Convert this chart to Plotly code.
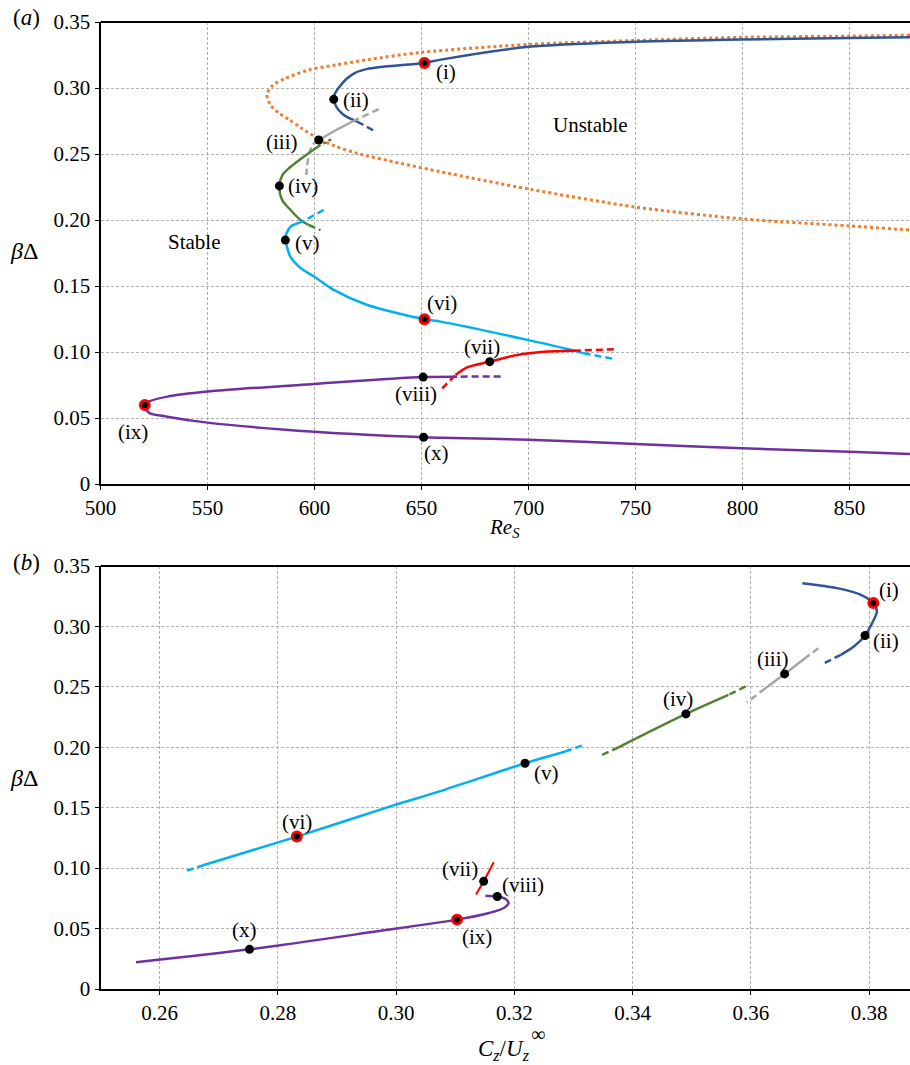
import plotly.graph_objects as go

# ---------------- Panel (a): beta*Delta versus Re_S ----------------
# neutral curve (dotted)
neutral_re = [878.3, 850, 800, 750, 700, 650, 625, 610, 597, 586, 580.5, 577.8,
              579.5, 583, 588, 594, 602, 610, 620, 640, 659, 700, 750, 800, 850, 878.3]
neutral_bd = [0.340, 0.3393, 0.3384, 0.336, 0.333, 0.327, 0.3215, 0.3175, 0.3135, 0.307, 0.302, 0.295,
              0.287, 0.2815, 0.2762, 0.2695, 0.2615, 0.2558, 0.2505, 0.243, 0.2365, 0.2235, 0.2098, 0.2008, 0.1955, 0.1924]

# branch through (i)-(ii)
a_blue_re = [878.3, 850, 800, 750, 700, 659, 651.4, 640, 630, 624.7, 619, 615, 611.5, 609.5, 609, 610.3, 613, 616.5, 620]
a_blue_bd = [0.3385, 0.3378, 0.3368, 0.335, 0.3312, 0.3215, 0.319, 0.3172, 0.3158, 0.3145, 0.3115, 0.307,
             0.3005, 0.2955, 0.2914, 0.2855, 0.2805, 0.277, 0.2745]
a_blue_tail_re = [620, 628.5]
a_blue_tail_bd = [0.2745, 0.267]

# branch through (iii)
a_gray_head_re = [630, 618.4]
a_gray_head_bd = [0.2839, 0.2752]
a_gray_re = [618.4, 610, 602]
a_gray_bd = [0.2752, 0.268, 0.2606]
a_gray_tail_re = [602, 599, 597, 596.2]
a_gray_tail_bd = [0.2606, 0.2568, 0.246, 0.2341]

# branch through (iv)
a_green_head_re = [607.8, 602.8]
a_green_head_bd = [0.2611, 0.2568]
a_green_re = [602.8, 595, 588, 585, 583.6, 584.9, 588.8, 593.5, 597.3]
a_green_bd = [0.2568, 0.248, 0.2392, 0.234, 0.2258, 0.2152, 0.2076, 0.200, 0.1962]
a_green_tail_re = [597.3, 602.8]
a_green_tail_bd = [0.1962, 0.1924]

# branch through (v)-(vi)
a_cyan_head_re = [604.3, 594.2]
a_cyan_head_bd = [0.2076, 0.1987]
a_cyan_re = [594.2, 588.8, 586.4, 586.4, 588.8, 593.5, 600, 609, 624.7, 651.4, 659, 700, 722, 725.8]
a_cyan_bd = [0.1987, 0.195, 0.1874, 0.1848, 0.172, 0.1636, 0.157, 0.147, 0.1356, 0.1248, 0.123, 0.109, 0.1008, 0.099]
a_cyan_tail_re = [725.8, 740.7]
a_cyan_tail_bd = [0.099, 0.0945]

# branch through (vii)
a_red_head_re = [659.7, 665.9]
a_red_head_bd = [0.0725, 0.0826]
a_red_re = [665.9, 671.3, 681.9, 694.7, 707.1, 719.6, 721.2]
a_red_bd = [0.0826, 0.0884, 0.0927, 0.0977, 0.1002, 0.101, 0.101]
a_red_tail_re = [721.2, 739.9]
a_red_tail_bd = [0.101, 0.102]

# branch through (viii)-(ix)-(x)
a_purple_head_re = [687, 666.6]
a_purple_head_bd = [0.0815, 0.0813]
a_purple_re = [666.6, 650.8, 600, 549.9, 531.2, 522.6, 520.7, 522.6, 531.2, 549.9, 600, 651, 659, 700, 750, 800, 850, 878.3]
a_purple_bd = [0.0813, 0.081, 0.0758, 0.070, 0.0662, 0.0624, 0.0598, 0.054, 0.051, 0.0465, 0.0396, 0.0354,
               0.035, 0.0335, 0.0303, 0.027, 0.0245, 0.0227]

# labelled states
state_names = ["(i)", "(ii)", "(iii)", "(iv)", "(v)", "(vi)", "(vii)", "(viii)", "(ix)", "(x)"]
a_state_re = [651.4, 609, 602, 583.6, 586.4, 651.4, 681.9, 650.8, 520.7, 651]
a_state_bd = [0.319, 0.2914, 0.2606, 0.2258, 0.1848, 0.1248, 0.0927, 0.081, 0.0598, 0.0354]

# ---------------- Panel (b): beta*Delta versus C_z/U_z ----------------
b_blue_c = [0.3687, 0.3746, 0.3786, 0.3807, 0.3813, 0.3802, 0.3793, 0.3774, 0.3752]
b_blue_bd = [0.3358, 0.3317, 0.3262, 0.3193, 0.3123, 0.300, 0.2925, 0.2834, 0.2765]
b_blue_tail_c = [0.3752, 0.3724]
b_blue_tail_bd = [0.2765, 0.2696]

b_gray_head_c = [0.3714, 0.3692]
b_gray_head_bd = [0.282, 0.2738]
b_gray_c = [0.3692, 0.3657, 0.3624]
b_gray_bd = [0.2738, 0.2607, 0.2486]
b_gray_tail_c = [0.3624, 0.3593]
b_gray_tail_bd = [0.2486, 0.2371]

b_green_head_c = [0.3591, 0.3562]
b_green_head_bd = [0.2503, 0.2434]
b_green_c = [0.3562, 0.349, 0.3376]
b_green_bd = [0.2434, 0.2276, 0.2]
b_green_tail_c = [0.3376, 0.3345]
b_green_tail_bd = [0.2, 0.1929]

b_cyan_head_c = [0.3314, 0.3286]
b_cyan_head_bd = [0.2014, 0.1965]
b_cyan_c = [0.3286, 0.3218, 0.3072, 0.2998, 0.2832, 0.2675]
b_cyan_bd = [0.1965, 0.1868, 0.1633, 0.1523, 0.1261, 0.1026]
b_cyan_tail_c = [0.2675, 0.2641]
b_cyan_tail_bd = [0.1026, 0.0971]

b_red_c = [0.3165, 0.3148, 0.3135]
b_red_bd = [0.1049, 0.0891, 0.0781]

b_purple_c = [0.256, 0.2752, 0.2965, 0.3103, 0.3157, 0.3182, 0.319, 0.3187, 0.3179, 0.3171, 0.3151]
b_purple_bd = [0.0221, 0.0328, 0.0475, 0.0574, 0.0629, 0.067, 0.0711, 0.0738, 0.0757, 0.0765, 0.0772]

b_state_c = [0.3807, 0.3793, 0.3657, 0.349, 0.3218, 0.2832, 0.3148, 0.3171, 0.3103, 0.2752]
b_state_bd = [0.3193, 0.2925, 0.2607, 0.2276, 0.1868, 0.1261, 0.0891, 0.0765, 0.0574, 0.0328]

highlighted = ["(i)", "(vi)", "(ix)"]

# tick values / labels
a_xticks = [500, 550, 600, 650, 700, 750, 800, 850]
b_xticks = [0.26, 0.28, 0.30, 0.32, 0.34, 0.36, 0.38]
b_xtext = ["0.26", "0.28", "0.30", "0.32", "0.34", "0.36", "0.38"]
yticks = [0, 0.05, 0.10, 0.15, 0.20, 0.25, 0.30, 0.35]
ytext = ["0", "0.05", "0.10", "0.15", "0.20", "0.25", "0.30", "0.35"]

# ---------------- drawing ----------------
W, H = 910, 1065
SERIF = "Liberation Serif, Times New Roman, Times, serif"
BLUE, ORANGE, GRAY = "#2F5597", "#ED7D31", "#A5A5A5"
GREEN, CYAN, RED, PURPLE = "#548235", "#00B0F0", "#FF0000", "#7030A0"
DASH = "7px,4px"

fig = go.Figure()


def curve(x, y, color, axis, dash="solid", width=2.5, spline=True):
    xa, ya = ("x", "y") if axis == 1 else ("x2", "y2")
    fig.add_trace(go.Scatter(
        x=x, y=y, mode="lines", xaxis=xa, yaxis=ya, hoverinfo="skip", showlegend=False,
        line=dict(color=color, width=width, dash=dash,
                  shape="spline" if spline else "linear", smoothing=0.8)))


# panel (a)
curve(neutral_re, neutral_bd, ORANGE, 1, dash="dot", width=3)
curve(a_blue_re, a_blue_bd, BLUE, 1)
curve(a_blue_tail_re, a_blue_tail_bd, BLUE, 1, dash=DASH)
curve(a_gray_head_re, a_gray_head_bd, GRAY, 1, dash=DASH)
curve(a_gray_re, a_gray_bd, GRAY, 1)
curve(a_gray_tail_re, a_gray_tail_bd, GRAY, 1, dash=DASH)
curve(a_green_head_re, a_green_head_bd, GREEN, 1, dash="3px,3px")
curve(a_green_re, a_green_bd, GREEN, 1)
curve(a_green_tail_re, a_green_tail_bd, GREEN, 1, dash=DASH)
curve(a_cyan_head_re, a_cyan_head_bd, CYAN, 1, dash=DASH)
curve(a_cyan_re, a_cyan_bd, CYAN, 1)
curve(a_cyan_tail_re, a_cyan_tail_bd, CYAN, 1, dash=DASH)
curve(a_red_head_re, a_red_head_bd, RED, 1, dash=DASH)
curve(a_red_re, a_red_bd, RED, 1)
curve(a_red_tail_re, a_red_tail_bd, RED, 1, dash=DASH)
curve(a_purple_head_re, a_purple_head_bd, PURPLE, 1, dash=DASH)
curve(a_purple_re, a_purple_bd, PURPLE, 1)

# panel (b)
curve(b_blue_c, b_blue_bd, BLUE, 2)
curve(b_blue_tail_c, b_blue_tail_bd, BLUE, 2, dash=DASH)
curve(b_gray_head_c, b_gray_head_bd, GRAY, 2, dash=DASH)
curve(b_gray_c, b_gray_bd, GRAY, 2)
curve(b_gray_tail_c, b_gray_tail_bd, GRAY, 2, dash=DASH)
curve(b_green_head_c, b_green_head_bd, GREEN, 2, dash=DASH)
curve(b_green_c, b_green_bd, GREEN, 2)
curve(b_green_tail_c, b_green_tail_bd, GREEN, 2, dash=DASH)
curve(b_cyan_head_c, b_cyan_head_bd, CYAN, 2, dash=DASH)
curve(b_cyan_c, b_cyan_bd, CYAN, 2)
curve(b_cyan_tail_c, b_cyan_tail_bd, CYAN, 2, dash=DASH)
curve(b_red_c, b_red_bd, RED, 2, width=2)
curve(b_purple_c, b_purple_bd, PURPLE, 2)

# state markers: black dots, highlighted states with a red ring
for axis, xs, ys in ((1, a_state_re, a_state_bd), (2, b_state_c, b_state_bd)):
    xa, ya = ("x", "y") if axis == 1 else ("x2", "y2")
    ring = [n in highlighted for n in state_names]
    fig.add_trace(go.Scatter(
        x=xs, y=ys, mode="markers", xaxis=xa, yaxis=ya, hoverinfo="skip", showlegend=False,
        marker=dict(color="black", size=9, opacity=1,
                    line=dict(color=[RED if r else "black" for r in ring],
                              width=[3 if r else 0 for r in ring]))))

# label offsets in screen pixels (right, down)
a_offsets = [(22, 9), (22, 1), (-37, 2), (24, 0), (22, 3), (18, -16), (-8, -15), (-7, 17), (-12, 27), (13, 16)]
b_offsets = [(16, -13), (21, 6), (-12, -15), (-8, -15), (21, 10), (0, -15), (-24, -12), (26, -12), (20, 17), (-5, -19)]

annotations = []
for axis, xs, ys, offs in ((1, a_state_re, a_state_bd, a_offsets), (2, b_state_c, b_state_bd, b_offsets)):
    xr, yr = ("x", "y") if axis == 1 else ("x2", "y2")
    for name, xv, yv, (dx, dy) in zip(state_names, xs, ys, offs):
        annotations.append(dict(x=xv, y=yv, xref=xr, yref=yr, text=name, showarrow=False,
                                xshift=dx, yshift=-dy, xanchor="center", yanchor="middle",
                                font=dict(family=SERIF, size=21, color="black")))

annotations.append(dict(x=543.9, y=0.1833, xref="x", yref="y", text="Stable", showarrow=False,
                        font=dict(family=SERIF, size=21, color="black")))
annotations.append(dict(x=729, y=0.272, xref="x", yref="y", text="Unstable", showarrow=False,
                        font=dict(family=SERIF, size=21, color="black")))


def paper_text(px, py, text, size, anchor="center"):
    annotations.append(dict(x=px / W, y=1 - py / H, xref="paper", yref="paper", text=text,
                            showarrow=False, xanchor=anchor, yanchor="middle",
                            font=dict(family=SERIF, size=size, color="black")))


paper_text(26, 17, "(<i>a</i>)", 23)
paper_text(26, 562, "(<i>b</i>)", 23)
paper_text(24, 251, "<i>β</i>Δ", 24)
paper_text(24, 778, "<i>β</i>Δ", 24)
paper_text(504, 528, "<i>Re<sub>S</sub></i>", 21)
paper_text(476, 1050, "<i>C<sub>z</sub></i>/<i>U<sub>z</sub></i>", 23, anchor="left")
paper_text(538, 1034, "∞", 20)

x0 = 100.5 / W
axis_style = dict(showline=True, linecolor="black", linewidth=2, ticks="outside", ticklen=4,
                  tickwidth=1, tickcolor="black", showgrid=True, gridcolor="#b3b3b3", gridwidth=1,
                  griddash="3px,2px", zeroline=False, mirror=False, automargin=False,
                  tickfont=dict(family=SERIF, size=21, color="black"))

fig.update_layout(
    template="none",
    width=W, height=H, autosize=False,
    margin=dict(l=0, r=0, t=0, b=0, pad=0),
    paper_bgcolor="white", plot_bgcolor="white",
    showlegend=False,
    font=dict(family=SERIF, color="black"),
    annotations=annotations,
    xaxis=dict(axis_style, domain=[x0, 1], range=[500, 878.3], tickvals=a_xticks, anchor="y"),
    yaxis=dict(axis_style, domain=[1 - 484 / H, 1 - 22 / H], range=[0, 0.35],
               tickvals=yticks, ticktext=ytext, anchor="x"),
    xaxis2=dict(axis_style, domain=[x0, 1], range=[0.25, 0.3869], tickvals=b_xticks, ticktext=b_xtext,
                anchor="y2"),
    yaxis2=dict(axis_style, domain=[1 - 989 / H, 1 - 566 / H], range=[0, 0.35],
                tickvals=yticks, ticktext=ytext, anchor="x2"),
    shapes=[
        dict(type="line", xref="x domain", yref="y domain", x0=0, x1=1, y0=1, y1=1,
             line=dict(color="black", width=2)),
        dict(type="line", xref="x2 domain", yref="y2 domain", x0=0, x1=1, y0=1, y1=1,
             line=dict(color="black", width=2)),
    ],
)

fig.write_html("out.html")
